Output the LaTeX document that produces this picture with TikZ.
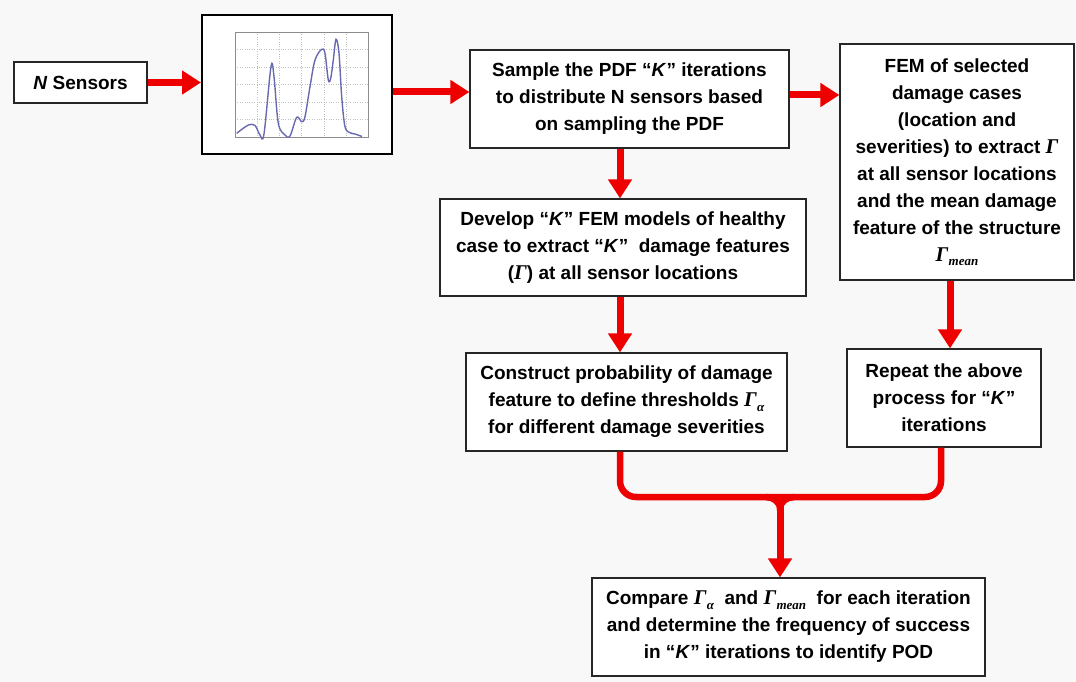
\documentclass[tikz,border=0pt]{standalone}
\usepackage{fontspec}
\setmainfont{Liberation Sans}
\newfontfamily\gfont{Liberation Serif}
\usetikzlibrary{arrows.meta,calc}
\definecolor{bg}{RGB}{248,248,248}
\definecolor{arr}{RGB}{238,0,0}
\definecolor{curvec}{RGB}{105,105,175}
\newcommand\GamS[1]{{\gfont\bfseries\itshape\fontsize{21}{27}\selectfont Γ\kern0.3pt\raisebox{-4.5pt}{\fontsize{13}{13}\selectfont #1}}}
\newcommand\GamP{{\gfont\bfseries\itshape\fontsize{21}{27}\selectfont Γ}}
\tikzset{
  box/.style={draw=black!85, line width=1.2pt, fill=white, align=center, inner sep=0pt,
    font=\bfseries\fontsize{19}{27}\selectfont},
  arrow/.style={draw=arr, line width=7pt, -{Triangle[length=19pt,width=23pt]}},
  redline/.style={draw=arr, line width=6.5pt},
}
\begin{document}
\begin{tikzpicture}[x=1pt,y=-1pt]
\fill[bg] (0,0) rectangle (1076,682);
\useasboundingbox (0,0) rectangle (1076,682);

% nodes
\node[box, minimum width=133pt, minimum height=41pt] (nsens) at (80.5,82.5) {\textit{N} Sensors};
\node[box, draw=black, line width=2pt, minimum width=190pt, minimum height=139pt] (plot) at (297,84.5) {};
\node[box, minimum width=319pt, minimum height=98pt] (sample) at (629.5,99)
  {Sample the PDF “\textit{K}” iterations\\ to distribute N sensors based\\ on sampling the PDF};
\node[box, minimum width=234pt, minimum height=236pt] (fem) at (957,162)
  {FEM of selected\\ damage cases\\ (location and\\ severities) to extract \GamP\\ at all sensor locations\\ and the mean damage\\ feature of the structure\\ \GamS{mean}};
\node[box, minimum width=366pt, minimum height=97pt] (develop) at (623,247.5)
  {Develop “\textit{K}” FEM models of healthy\\ case to extract “\textit{K}”\ \ damage features\\ (\GamP) at all sensor locations};
\node[box, minimum width=321pt, minimum height=98pt] (construct) at (626.5,402)
  {Construct probability of damage\\ feature to define thresholds \GamS{α}\\ for different damage severities};
\node[box, minimum width=194pt, minimum height=98pt] (repeat) at (944,398)
  {Repeat the above\\ process for “\textit{K}”\\ iterations};
\node[box, minimum width=393pt, minimum height=98pt] (compare) at (788.5,627)
  {Compare \GamS{α}\ \ and \GamS{mean}\ \ for each iteration\\ and determine the frequency of success\\ in “\textit{K}” iterations to identify POD};

% chart inside plot box
\draw[black!25, line width=0.4pt, dotted]
  \foreach \gx in {257.2,279.3,301.5,323.7,345.8} {(\gx,32) -- (\gx,137)}
  \foreach \gy in {49.5,67,84.5,102,119.5} {(235,\gy) -- (368,\gy)};
\draw[black!45, line width=0.5pt] (235,32) rectangle (368,137);
\draw[curvec, line width=1.4pt] plot[smooth, tension=0.55] coordinates {
  (236.7,133.3) (248.3,125) (255,125.5) (260,135) (264,134) (271,66.7) (274,76.7)
  (278.3,123.3) (285,135) (290,136) (296.7,117.3) (301.7,121.7) (305,116.7)
  (310,86.7) (315,60) (321.7,49.3) (325,53.3) (328.3,80) (330.7,78.3) (333.3,60)
  (336,39.3) (339,53.3) (341.7,96.7) (345,126.7) (350,132.7) (355,134) (362,136.5)};

% connectors
\coordinate (p1) at ($(plot.east)+(0,7.5)$);
\coordinate (p2) at ($(sample.east)+(0,-4)$);
\coordinate (mx) at (620,0);
\coordinate (rx) at (950,0);
\coordinate (rb) at (941,0);
\coordinate (jy) at (0,497);
\coordinate (jn) at (780,497);

\draw[arrow] (nsens.east) -- (nsens.east -| plot.west);
\draw[arrow] (p1) -- (p1 -| sample.west);
\draw[arrow] (p2) -- (p2 -| fem.west);
\draw[arrow] (mx |- sample.south) -- (mx |- develop.north);
\draw[arrow] (mx |- develop.south) -- (mx |- construct.north);
\draw[arrow] (rx |- fem.south) -- (rx |- repeat.north);

\draw[redline, rounded corners=16pt] (mx |- construct.south) -- (mx |- jy) -- (rb |- jy) -- (rb |- repeat.south);
\draw[redline, line cap=butt] ($(jn)+(-14,0)$) to[out=0,in=90] ($(jn)+(0,12)$) to[out=90,in=180] ($(jn)+(14,0)$);
\draw[arrow] (jn) -- (jn |- compare.north);
\end{tikzpicture}
\end{document}
